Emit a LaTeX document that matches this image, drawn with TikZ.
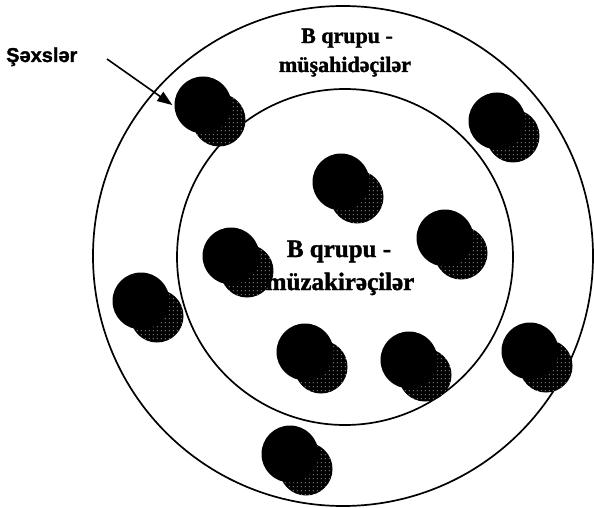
\documentclass[tikz,border=0pt]{standalone}
\usepackage{fontspec}
\setmainfont{Liberation Serif}[BoldFont={Liberation Serif Bold},BoldFeatures={FakeBold=1.5}]
\newfontfamily\labelsans{Liberation Sans}[BoldFont={Liberation Sans Bold},BoldFeatures={FakeBold=1.5}]
\usetikzlibrary{patterns,arrows.meta}

% sparse white specks for the shadow discs
\pgfdeclarepatternformonly{specks}{\pgfqpoint{0pt}{0pt}}{\pgfqpoint{4pt}{4pt}}{\pgfqpoint{4pt}{4pt}}{%
  \pgfpathrectangle{\pgfqpoint{1pt}{1pt}}{\pgfqpoint{1.1pt}{1.1pt}}%
  \pgfusepath{fill}}

% one person: a speckled shadow disc behind a solid black disc
\newcommand\person[3]{%
  \node[shadowdisc] (#1s) at ({#2+16},{#3+15}) {};
  \node[bodydisc] (#1) at (#2,#3) {};}

\begin{document}
\begin{tikzpicture}[x=1pt,y=-1pt,
  ring/.style={draw=black,line width=1.7pt},
  bodydisc/.style={circle,fill=black,minimum size=57pt,inner sep=0pt},
  shadowdisc/.style={circle,fill=black,minimum size=53pt,inner sep=0pt,
    postaction={pattern=specks,pattern color=white}},
  grouptext/.style={font=\bfseries\fontsize{22}{26}\selectfont,anchor=base},
  innertext/.style={font=\bfseries\fontsize{25}{29}\selectfont,anchor=base},
  pointer/.style={line width=1.6pt,-{Triangle[length=15pt,width=11pt]}}]
\useasboundingbox (0,0) rectangle (594,508);
\fill[white] (0,0) rectangle (594,508);

% the two group rings
\draw[ring] (343,256) circle[radius=250pt];
\draw[ring] (345,257) circle[radius=168pt];

% people
\person{p1}{203}{105}
\person{p2}{497}{121}
\person{p3}{341}{182}
\person{p4}{231}{256}
\person{p5}{445}{238}
\person{p6}{141}{301}
\person{p7}{305}{352}
\person{p8}{409}{360}
\person{p9}{530}{351}
\person{p10}{290}{454}

% group labels
\node[grouptext] (outerA) at (347,43) {B qrupu -};
\node[grouptext] (outerB) at (345,72) {müşahidəçilər};
\node[innertext] (innerA) at (339,257) {B qrupu -};
\node[innertext] (innerB) at (340,290) {müzakirəçilər};

% pointer to a person
\node[font=\labelsans\bfseries\fontsize{20}{24}\selectfont,anchor=base west,inner sep=0pt] (who) at (6,62) {Şəxslər};
\coordinate (tail) at (107,59);
\draw[pointer] (tail) -- ([xshift=-2pt]p1.west);
\end{tikzpicture}
\end{document}
